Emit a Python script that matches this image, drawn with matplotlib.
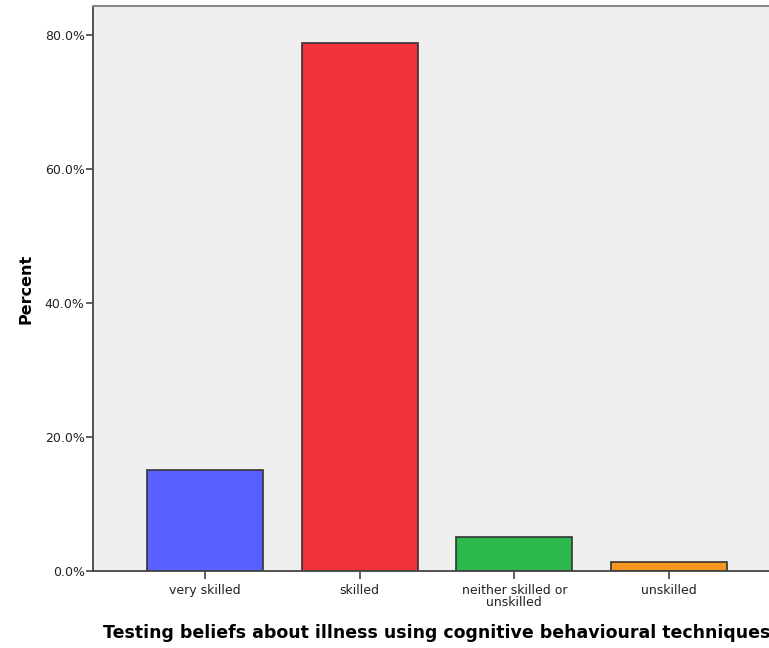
import numpy as np
import matplotlib.pyplot as plt
from matplotlib.ticker import FuncFormatter

categories = ['very skilled', 'skilled', 'neither skilled or\nunskilled', 'unskilled']
percent = [15.0, 78.8, 5.1, 1.3]
colors = ['#5a5fff', '#f0323a', '#2db84b', '#f7961e']

fig = plt.figure(figsize=(7.69, 6.48), dpi=100)
ax = fig.add_axes([0.1209, 0.1188, 0.8947, 0.8719])
ax.set_facecolor('#efefef')

x = np.arange(len(categories))
ax.bar(x, percent, width=0.75, color=colors, edgecolor='#333333', linewidth=1.2, zorder=2)

ax.set_xlim(-0.725, 3.725)
ax.set_ylim(0, 84.3)
ax.set_yticks([0, 20, 40, 60, 80])
ax.yaxis.set_major_formatter(FuncFormatter(lambda v, p: '%.1f%%' % v))
ax.set_xticks(x)
ax.set_xticklabels(categories, fontsize=9, color='#222222', linespacing=0.95)
ax.tick_params(axis='y', labelsize=9, labelcolor='#222222', length=5, width=1.2, color='#444444', pad=1)
ax.tick_params(axis='x', length=6, width=1.2, color='#444444', pad=3)

for side in ['left', 'bottom']:
    ax.spines[side].set_color('#444444')
    ax.spines[side].set_linewidth(1.3)
ax.spines['top'].set_color('#888888')
ax.spines['top'].set_linewidth(1.5)
ax.spines['right'].set_visible(False)

ax.set_ylabel('Percent', fontsize=11.5, fontweight='bold', labelpad=8)
ax.set_xlabel('Testing beliefs about illness using cognitive behavioural techniques',
              fontsize=12.5, fontweight='bold', labelpad=11)

fig.savefig('out.png', dpi=100)
